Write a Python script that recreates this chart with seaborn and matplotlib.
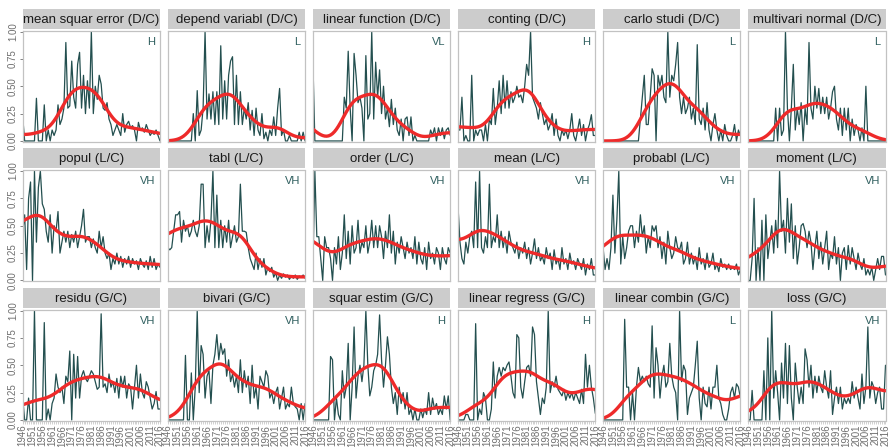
import numpy as np
import pandas as pd
import matplotlib
matplotlib.use("Agg")
import matplotlib.pyplot as plt
import seaborn as sns

# ---------------------------------------------------------------- data
years = list(range(1946, 2017))

titles = [
    "mean squar error (D/C)", "depend variabl (D/C)", "linear function (D/C)",
    "conting (D/C)", "carlo studi (D/C)", "multivari normal (D/C)",
    "popul (L/C)", "tabl (L/C)", "order (L/C)",
    "mean (L/C)", "probabl (L/C)", "moment (L/C)",
    "residu (G/C)", "bivari (G/C)", "squar estim (G/C)",
    "linear regress (G/C)", "linear combin (G/C)", "loss (G/C)",
]
levels = ["H", "L", "VL", "H", "L", "L",
          "VH", "VH", "VH", "VH", "VH", "VH",
          "VH", "VH", "H", "H", "L", "VH"]

mean_squar_error = [
    0.22, 0.0, 0.0, 0.0, 0.0, 0.0, 0.0, 0.39, 0.0, 0.0,
    0.0, 0.33, 0.0, 0.1, 0.0, 0.1, 0.05, 0.1, 0.33, 0.15,
    0.2, 0.3, 0.9, 0.3, 0.32, 0.73, 0.4, 0.3, 0.7, 0.81,
    0.3, 0.6, 0.25, 0.55, 0.3, 1.0, 0.25, 0.5, 0.38, 0.6,
    0.52, 0.3, 0.28, 0.35, 0.2, 0.15, 0.05, 0.1, 0.15, 0.1,
    0.05, 0.25, 0.08, 0.15, 0.18, 0.12, 0.14, 0.1, 0.0, 0.17,
    0.1, 0.12, 0.08, 0.15, 0.1, 0.05, 0.08, 0.06, 0.1, 0.05,
    0.0]
depend_variabl = [
    0.0, 0.0, 0.0, 0.0, 0.0, 0.0, 0.0, 0.0, 0.0, 0.0,
    0.0, 0.0, 0.0, 0.25, 0.0, 0.46, 0.05, 0.1, 0.3, 1.0,
    0.2, 0.43, 0.2, 0.45, 0.15, 0.45, 0.15, 0.87, 0.2, 0.55,
    0.2, 0.6, 0.73, 0.77, 0.15, 0.6, 0.15, 0.45, 0.15, 0.3,
    0.2, 0.35, 0.1, 0.28, 0.05, 0.3, 0.1, 0.05, 0.25, 0.02,
    0.08, 0.0, 0.1, 0.05, 0.22, 0.05, 0.3, 0.48, 0.05, 0.1,
    0.0, 0.0, 0.05, 0.0, 0.0, 0.0, 0.0, 0.08, 0.0, 0.08,
    0.0]
linear_function = [
    0.73, 0.0, 0.0, 0.0, 0.0, 0.0, 0.0, 0.0, 0.0, 0.0,
    0.0, 0.0, 0.0, 0.0, 0.0, 0.0, 0.4, 0.3, 0.82, 0.3,
    0.0, 0.8, 0.6, 0.35, 0.4, 0.3, 0.0, 0.78, 0.2, 0.25,
    1.0, 0.2, 0.72, 0.4, 0.65, 0.25, 0.5, 0.2, 0.3, 0.13,
    0.38, 0.15, 0.3, 0.1, 0.05, 0.2, 0.0, 0.2, 0.22, 0.05,
    0.22, 0.0, 0.05, 0.0, 0.0, 0.0, 0.0, 0.0, 0.0, 0.0,
    0.1, 0.05, 0.12, 0.0, 0.12, 0.05, 0.12, 0.02, 0.1, 0.12,
    0.05]
conting = [
    0.1, 0.1, 0.4, 0.0, 0.05, 0.0, 0.0, 0.6, 0.0, 0.1,
    0.05, 0.1, 0.1, 0.0, 0.15, 0.0, 0.2, 0.15, 0.48, 0.15,
    0.3, 0.55, 0.25, 0.6, 0.3, 0.55, 0.3, 0.45, 0.35, 0.4,
    0.5, 0.4, 0.42, 0.35, 0.5, 0.7, 0.6, 1.0, 0.4, 0.35,
    0.3, 0.2, 0.35, 0.25, 0.15, 0.2, 0.1, 0.15, 0.25, 0.05,
    0.2, 0.05, 0.0, 0.1, 0.05, 0.1, 0.02, 0.1, 0.25, 0.05,
    0.0, 0.1, 0.2, 0.05, 0.15, 0.0, 0.1, 0.15, 0.24, 0.05,
    0.05]
carlo_studi = [
    0.0, 0.0, 0.0, 0.0, 0.0, 0.0, 0.0, 0.0, 0.0, 0.0,
    0.0, 0.0, 0.0, 0.0, 0.0, 0.0, 0.0, 0.0, 0.0, 0.2,
    0.4, 0.6, 0.15, 0.15, 0.4, 0.66, 0.6, 0.0, 0.6, 0.5,
    0.6, 0.4, 0.35, 1.0, 0.4, 0.6, 0.55, 0.7, 0.9, 0.4,
    0.25, 0.4, 0.25, 0.3, 0.4, 0.2, 0.3, 0.15, 0.88, 0.2,
    0.15, 0.3, 0.1, 0.35, 0.1, 0.0, 0.15, 0.25, 0.1, 0.0,
    0.1, 0.0, 0.15, 0.05, 0.0, 0.0, 0.05, 0.15, 0.0, 0.1,
    0.05]
multivari_normal = [
    0.0, 0.0, 0.0, 0.0, 0.0, 0.0, 0.0, 0.0, 0.0, 0.0,
    0.0, 0.0, 0.0, 0.0, 0.3, 0.0, 0.3, 0.05, 0.1, 1.0,
    0.3, 0.0, 0.3, 0.7, 0.1, 0.3, 0.15, 0.35, 0.0, 0.3,
    0.15, 0.9, 0.3, 0.2, 0.5, 0.3, 0.48, 0.25, 0.4, 0.25,
    0.4, 0.2, 0.3, 0.45, 0.5, 0.2, 0.1, 0.3, 0.05, 0.3,
    0.1, 0.3, 0.0, 0.2, 0.05, 0.15, 0.1, 0.0, 0.12, 0.0,
    0.5, 0.0, 0.0, 0.0, 0.0, 0.0, 0.0, 0.0, 0.0, 0.0,
    0.0]
popul = [
    0.45, 0.6, 0.1, 0.75, 0.9, 0.0, 1.0, 0.35, 0.85, 1.0,
    0.7, 0.65, 0.45, 0.35, 0.6, 0.25, 0.5, 0.45, 0.63, 0.25,
    0.35, 0.45, 0.35, 0.45, 0.3, 0.42, 0.35, 0.45, 0.3, 0.4,
    0.5, 0.65, 0.35, 0.4, 0.4, 0.3, 0.38, 0.3, 0.25, 0.45,
    0.3, 0.4, 0.25, 0.2, 0.25, 0.1, 0.2, 0.15, 0.25, 0.15,
    0.22, 0.12, 0.2, 0.15, 0.22, 0.12, 0.2, 0.15, 0.18, 0.1,
    0.2, 0.15, 0.12, 0.18, 0.1, 0.22, 0.12, 0.2, 0.1, 0.15,
    0.12]
tabl = [
    0.3, 0.28, 0.3, 0.45, 0.6, 0.6, 0.63, 0.35, 0.55, 0.45,
    0.5, 0.4, 0.45, 0.55, 0.45, 0.4, 0.5, 0.88, 0.88, 0.3,
    0.5, 0.35, 0.55, 1.0, 0.3, 0.78, 0.3, 0.55, 0.3, 0.5,
    0.35, 0.55, 0.3, 0.4, 0.5, 0.35, 0.4, 0.88, 0.45, 0.45,
    0.44, 0.3, 0.2, 0.15, 0.1, 0.25, 0.1, 0.2, 0.12, 0.2,
    0.05, 0.12, 0.08, 0.12, 0.03, 0.07, 0.0, 0.05, 0.02, 0.06,
    0.03, 0.05, 0.01, 0.04, 0.02, 0.05, 0.01, 0.04, 0.03, 0.05,
    0.02]
order = [
    0.1, 1.0, 0.4, 0.4, 0.2, 0.0, 0.4, 0.3, 0.3, 0.2,
    0.0, 0.3, 0.15, 0.4, 0.1, 0.25, 0.6, 0.2, 0.45, 0.15,
    0.5, 0.25, 0.3, 0.55, 0.25, 0.35, 0.3, 0.5, 0.25, 0.35,
    0.55, 0.3, 0.5, 0.3, 0.5, 0.4, 0.2, 0.45, 0.3, 0.6,
    0.25, 0.45, 0.15, 0.35, 0.25, 0.4, 0.3, 0.2, 0.35, 0.25,
    0.3, 0.2, 0.4, 0.15, 0.35, 0.2, 0.15, 0.3, 0.1, 0.35,
    0.2, 0.25, 0.15, 0.3, 0.25, 0.1, 0.3, 0.2, 0.15, 0.3,
    0.25]
mean = [
    0.68, 0.35, 0.2, 0.15, 0.35, 0.25, 0.4, 0.45, 0.3, 0.9,
    0.3, 1.0, 0.3, 0.25, 0.4, 0.3, 0.88, 0.3, 0.4, 0.35,
    0.6, 0.3, 0.45, 0.3, 0.4, 0.25, 0.45, 0.35, 0.3, 0.25,
    0.35, 0.2, 0.3, 0.25, 0.35, 0.2, 0.3, 0.15, 0.25, 0.38,
    0.2, 0.3, 0.18, 0.22, 0.15, 0.3, 0.2, 0.25, 0.1, 0.28,
    0.15, 0.2, 0.1, 0.3, 0.15, 0.2, 0.1, 0.25, 0.15, 0.18,
    0.1, 0.2, 0.15, 0.1, 0.2, 0.05, 0.15, 0.1, 0.2, 0.05,
    0.05]
probabl = [
    0.3, 0.1, 0.2, 0.1, 0.3, 0.78, 0.25, 0.55, 1.0, 0.15,
    0.4, 0.2, 0.3, 0.45, 0.5, 0.5, 0.3, 0.45, 0.35, 0.6,
    0.4, 0.5, 0.25, 0.4, 0.3, 0.5, 0.45, 0.5, 0.3, 0.4,
    0.2, 0.35, 0.15, 0.45, 0.3, 0.2, 0.25, 0.4, 0.3, 0.28,
    0.35, 0.15, 0.2, 0.35, 0.15, 0.25, 0.15, 0.22, 0.1, 0.3,
    0.15, 0.2, 0.1, 0.25, 0.12, 0.15, 0.25, 0.1, 0.15, 0.08,
    0.2, 0.12, 0.15, 0.1, 0.15, 0.1, 0.12, 0.1, 0.15, 0.05,
    0.1]
moment = [
    0.0, 0.0, 0.2, 0.75, 0.0, 0.3, 0.0, 0.55, 0.0, 0.6,
    0.2, 0.35, 0.5, 0.25, 0.55, 0.3, 1.0, 0.45, 0.55, 0.25,
    0.75, 0.35, 0.7, 0.2, 0.5, 0.15, 0.3, 0.5, 0.52, 0.45,
    0.3, 0.45, 0.35, 0.1, 0.3, 0.45, 0.2, 0.35, 0.15, 0.3,
    0.45, 0.1, 0.25, 0.2, 0.4, 0.15, 0.3, 0.0, 0.25, 0.3,
    0.1, 0.32, 0.15, 0.3, 0.2, 0.1, 0.25, 0.15, 0.1, 0.2,
    0.05, 0.1, 0.05, 0.12, 0.0, 0.1, 0.2, 0.1, 0.22, 0.22,
    0.05]
residu = [
    0.2, 0.0, 0.0, 0.2, 0.0, 0.0, 1.0, 0.0, 0.0, 0.0,
    0.0, 0.89, 0.0, 0.1, 0.0, 0.15, 0.2, 0.42, 0.3, 0.25,
    0.3, 0.15, 0.4, 0.35, 0.63, 0.0, 0.6, 0.2, 0.58, 0.2,
    0.4, 0.45, 0.38, 0.35, 0.4, 0.45, 0.42, 0.35, 0.28, 0.3,
    0.97, 0.3, 0.33, 0.25, 0.42, 0.3, 0.35, 0.25, 0.38, 0.2,
    0.4, 0.3, 0.4, 0.2, 0.33, 0.3, 0.1, 0.3, 0.5, 0.2,
    0.42, 0.25, 0.2, 0.35, 0.3, 0.2, 0.1, 0.15, 0.26, 0.1,
    0.1]
bivari = [
    0.0, 0.0, 0.0, 0.0, 0.0, 0.0, 0.0, 0.0, 0.0, 0.59,
    0.0, 0.0, 0.43, 0.0, 0.3, 1.0, 0.25, 0.68, 0.6, 0.2,
    0.4, 0.45, 0.15, 0.5, 0.6, 0.78, 0.55, 0.7, 0.6, 0.65,
    0.4, 0.55, 0.35, 0.42, 0.3, 0.4, 0.25, 0.55, 0.25, 0.45,
    0.3, 0.4, 0.15, 0.5, 0.2, 0.3, 0.1, 0.4, 0.35, 0.3,
    0.45, 0.4, 0.2, 0.25, 0.15, 0.25, 0.3, 0.1, 0.2, 0.3,
    0.1, 0.15, 0.12, 0.3, 0.15, 0.12, 0.1, 0.0, 0.15, 0.0,
    0.15]
squar_estim = [
    0.0, 0.0, 0.0, 0.0, 0.0, 0.0, 0.0, 0.0, 0.0, 0.58,
    0.55, 0.0, 0.2, 0.05, 0.0, 0.45, 0.2, 0.3, 0.7, 0.0,
    0.3, 0.85, 0.2, 0.4, 0.5, 0.35, 0.5, 1.0, 0.5, 0.22,
    0.3, 0.45, 0.5, 0.6, 0.96, 0.55, 0.3, 0.5, 0.76, 0.6,
    0.3, 0.15, 0.25, 0.05, 0.3, 0.15, 0.25, 0.1, 0.25, 0.05,
    0.1, 0.0, 0.1, 0.0, 0.0, 0.1, 0.02, 0.1, 0.05, 0.25,
    0.05, 0.2, 0.1, 0.15, 0.05, 0.1, 0.05, 0.22, 0.1, 0.22,
    0.0]
linear_regress = [
    0.0, 0.0, 0.0, 0.0, 0.05, 0.05, 0.0, 0.0, 0.0, 0.88,
    0.0, 0.1, 0.05, 0.25, 0.2, 0.0, 0.0, 0.1, 0.53, 0.2,
    0.4, 0.48, 0.4, 0.48, 0.45, 0.5, 0.53, 0.4, 0.25, 0.2,
    0.78, 0.75, 0.3, 0.2, 0.35, 0.48, 0.5, 0.4, 0.85, 0.78,
    0.35, 0.2, 0.05, 0.2, 0.15, 0.3, 1.0, 0.25, 0.35, 0.3,
    0.4, 0.28, 0.25, 0.22, 0.28, 0.18, 0.25, 0.2, 0.25, 0.18,
    0.25, 0.2, 0.15, 0.28, 0.15, 0.6, 0.3, 0.5, 0.3, 0.2,
    0.06]
linear_combin = [
    0.0, 0.0, 0.0, 0.0, 0.0, 0.0, 0.0, 0.0, 0.0, 0.0,
    0.0, 0.92, 0.3, 0.3, 0.0, 0.25, 0.0, 0.3, 0.48, 0.35,
    0.4, 0.35, 0.4, 0.33, 0.3, 0.86, 0.2, 0.66, 0.5, 0.2,
    0.4, 0.5, 0.3, 0.35, 0.7, 0.4, 0.3, 0.25, 0.0, 1.0,
    0.35, 0.5, 0.45, 0.05, 0.2, 0.25, 0.3, 0.5, 0.72, 0.2,
    0.0, 0.3, 0.15, 0.12, 0.3, 0.1, 0.3, 0.3, 0.5, 0.2,
    0.15, 0.05, 0.0, 0.0, 0.1, 0.25, 0.3, 0.2, 0.33, 0.3,
    0.2]
loss = [
    0.0, 0.0, 0.27, 0.0, 0.0, 0.0, 0.0, 0.0, 0.45, 0.0,
    0.75, 0.0, 1.0, 0.2, 0.45, 0.25, 0.0, 0.52, 0.2, 0.7,
    0.15, 0.68, 0.2, 0.0, 0.52, 0.3, 0.15, 0.3, 0.15, 0.65,
    0.55, 0.3, 0.5, 0.2, 0.4, 0.25, 0.4, 0.3, 0.25, 0.45,
    0.3, 0.2, 0.45, 0.05, 0.2, 0.3, 0.15, 0.3, 0.1, 0.2,
    0.15, 0.2, 0.15, 0.35, 0.2, 0.3, 0.2, 0.1, 0.42, 0.15,
    0.3, 0.85, 0.2, 0.35, 0.3, 0.15, 0.25, 0.3, 0.1, 0.1,
    0.5]

series = [mean_squar_error, depend_variabl, linear_function, conting,
          carlo_studi, multivari_normal, popul, tabl, order, mean, probabl,
          moment, residu, bivari, squar_estim, linear_regress, linear_combin,
          loss]

df = pd.concat(
    [pd.DataFrame({"year": years, "share": vals, "term": t})
     for t, vals in zip(titles, series)],
    ignore_index=True)


def kernel_smooth(x, y, bw=5.0):
    """Nadaraya-Watson smoother with a Gaussian kernel (bandwidth in years)."""
    x = np.asarray(x, float)
    y = np.asarray(y, float)
    w = np.exp(-0.5 * ((x[:, None] - x[None, :]) / bw) ** 2)
    return (w @ y) / w.sum(axis=1)


df["smooth"] = df.groupby("term", sort=False)["share"].transform(
    lambda s: kernel_smooth(years, s.values))

# ---------------------------------------------------------------- figure
sns.set_theme(style="white")
plt.rcParams["font.family"] = ["Liberation Sans", "DejaVu Sans"]

W, H = 889, 447
fig = plt.figure(figsize=(W / 100, H / 100), dpi=100)

line_col = "#234f4f"
red = "#ee2a2a"
border = "#c2c2c2"
strip_col = "#cccccc"
tick_col = "#6e6e6e"

col_left = [22.7 + 145.1 * c for c in range(6)]
panel_w = 137.3
row_top = [31.0, 170.5, 310.0]
panel_h = 110.5
strip_h = 20.0
strip_gap = 2.0

label_years = [y for y in years if (y - 1946) % 5 == 0]

for idx, term in enumerate(titles):
    r, c = divmod(idx, 6)
    x0 = col_left[c]
    top = row_top[r]
    ax = fig.add_axes([x0 / W, 1 - (top + panel_h) / H, panel_w / W, panel_h / H])
    sub = df[df["term"] == term]
    sns.lineplot(data=sub, x="year", y="share", ax=ax, color=line_col,
                 lw=0.9, estimator=None)
    sns.lineplot(data=sub, x="year", y="smooth", ax=ax, color=red,
                 lw=2.4, estimator=None)
    ax.set_xlim(1946, 2016)
    ax.set_ylim(-0.005, 1.005)
    ax.set_xlabel("")
    ax.set_ylabel("")
    for sp in ax.spines.values():
        sp.set_color(border)
        sp.set_linewidth(0.9)
    ax.text(0.965, 0.95, levels[idx], transform=ax.transAxes, ha="right",
            va="top", color="#2f5f5f", fontsize=8)

    if c == 0:
        ax.set_yticks([0, 0.25, 0.5, 0.75, 1.0])
        ax.set_yticklabels(["0.00", "0.25", "0.50", "0.75", "1.00"],
                           rotation=90, va="center", fontsize=7, color=tick_col)
        ax.tick_params(axis="y", length=2, width=0.6, color=tick_col, pad=1.5,
                       left=True)
    else:
        ax.set_yticks([])

    if r == 2:
        ax.set_xticks(years)
        ax.set_xticklabels([str(y) if y in label_years else "" for y in years],
                           rotation=90, fontsize=7, color=tick_col)
        ax.tick_params(axis="x", length=2, width=0.5, color="#bdbdbd", pad=1,
                       bottom=True)
    else:
        ax.set_xticks([])

    sax = fig.add_axes([x0 / W, 1 - (top - strip_gap) / H, panel_w / W,
                        strip_h / H])
    sax.set_facecolor(strip_col)
    sax.set_xticks([])
    sax.set_yticks([])
    for sp in sax.spines.values():
        sp.set_visible(False)
    sax.text(0.5, 0.47, term, transform=sax.transAxes, ha="center",
             va="center", fontsize=9.5, color="#1a1a1a")

fig.savefig("out.png", dpi=100)
